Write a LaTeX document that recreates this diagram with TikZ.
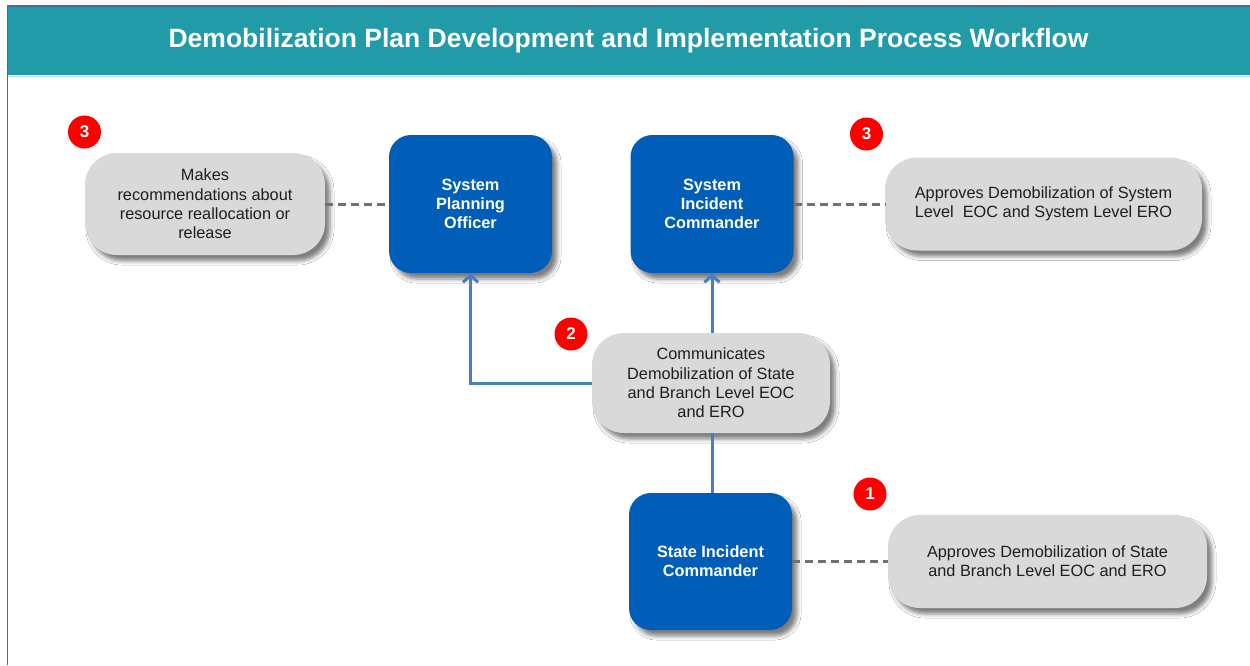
\documentclass[tikz,border=0pt]{standalone}
\usepackage{fontspec}
\setmainfont{Liberation Sans}
\usetikzlibrary{arrows.meta,shadows.blur}
\definecolor{titleteal}{RGB}{33,155,168}
\definecolor{boxblue}{RGB}{0,94,184}
\definecolor{linkblue}{RGB}{74,126,193}
\definecolor{boxgray}{RGB}{217,217,217}
\definecolor{dashgray}{RGB}{112,112,112}
\definecolor{badgered}{RGB}{255,0,0}
\definecolor{textdark}{RGB}{30,30,30}
\definecolor{bordblue}{RGB}{60,110,180}
\definecolor{lightcyan}{RGB}{190,232,238}
\begin{document}
\begin{tikzpicture}[x=1pt,y=-1pt,
  myshadow/.style={blur shadow={shadow xshift=5pt,shadow yshift=-6pt,shadow blur radius=4pt,shadow opacity=50}},
  bluebox/.style={fill=boxblue, rounded corners=22pt, minimum width=163pt, minimum height=138pt,
    text=white, font=\bfseries\fontsize{16.3}{19}\selectfont, align=center, inner sep=0pt, myshadow},
  graybox/.style={fill=boxgray, rounded corners=32pt, text=textdark,
    font=\fontsize{16.3}{19.3}\selectfont, align=center, inner sep=0pt, myshadow},
  badge/.style={circle, fill=badgered, text=white, font=\bfseries\fontsize{17}{17}\selectfont,
    minimum size=33pt, inner sep=0pt},
  dashlink/.style={draw=dashgray, line width=3pt, dash pattern=on 8pt off 5pt},
  bluelink/.style={draw=linkblue, line width=3pt},
  arrowlink/.style={bluelink, -{Straight Barb[length=7pt,width=15pt]}}
]
\useasboundingbox[fill=white] (0,0) rectangle (1250,665);

% title bar
\node[fill=titleteal, minimum width=1243pt, minimum height=69pt, inner sep=0pt,
  text=white, font=\bfseries\fontsize{26.5}{30}\selectfont] (title) at (628.5,40.5)
  {Demobilization Plan Development and Implementation Process Workflow};
\coordinate (tl) at (7.5,6);
\coordinate (bl) at (7.5,665);
\coordinate (tr) at (1250,6);
\coordinate (ul) at (8,76.5);
\coordinate (ur) at (1250,76.5);
\draw[bordblue, line width=1.5pt] (bl) -- (tl) -- (tr);
\draw[lightcyan, line width=1.5pt] (ul) -- (ur);

% nodes
\node[graybox, minimum width=240pt, minimum height=102pt] (g1) at (205,204)
  {Makes\\recommendations about\\resource reallocation or\\release};
\node[bluebox] (spo) at (470.5,204) {System\\Planning\\Officer};
\node[bluebox] (sic) at (712,204) {System\\Incident\\Commander};
\node[graybox, minimum width=317pt, minimum height=93pt] (g3) at (1043.5,204)
  {Approves Demobilization of System\\Level\ \ EOC and System Level ERO};
\node[graybox, minimum width=238pt, minimum height=100pt] (g2) at (711,383)
  {Communicates\\Demobilization of State\\and Branch Level EOC\\and ERO};
\node[bluebox, minimum height=137pt] (state) at (710.5,561.5) {State Incident\\Commander};
\node[graybox, minimum width=319pt, minimum height=93pt] (g4) at (1047.5,561.5)
  {Approves Demobilization of State\\and Branch Level EOC and ERO};

% badges
\node[badge] (b3a) at (84.5,132) {3};
\node[badge] (b3b) at (866.5,134) {3};
\node[badge] (b2) at (571,334) {2};
\node[badge] (b1) at (870,494) {1};

% connectors
\draw[dashlink] (g1.east) -- (spo.west);
\draw[dashlink] (sic.east) -- (g3.west);
\draw[dashlink] (state.east) -- (g4.west);
\draw[bluelink] (sic.south |- state.north) -- (sic.south |- g2.south);
\draw[arrowlink] (sic.south |- g2.north) -- (sic.south);
\draw[arrowlink] (g2.west) -| (spo.south);
\end{tikzpicture}
\end{document}
